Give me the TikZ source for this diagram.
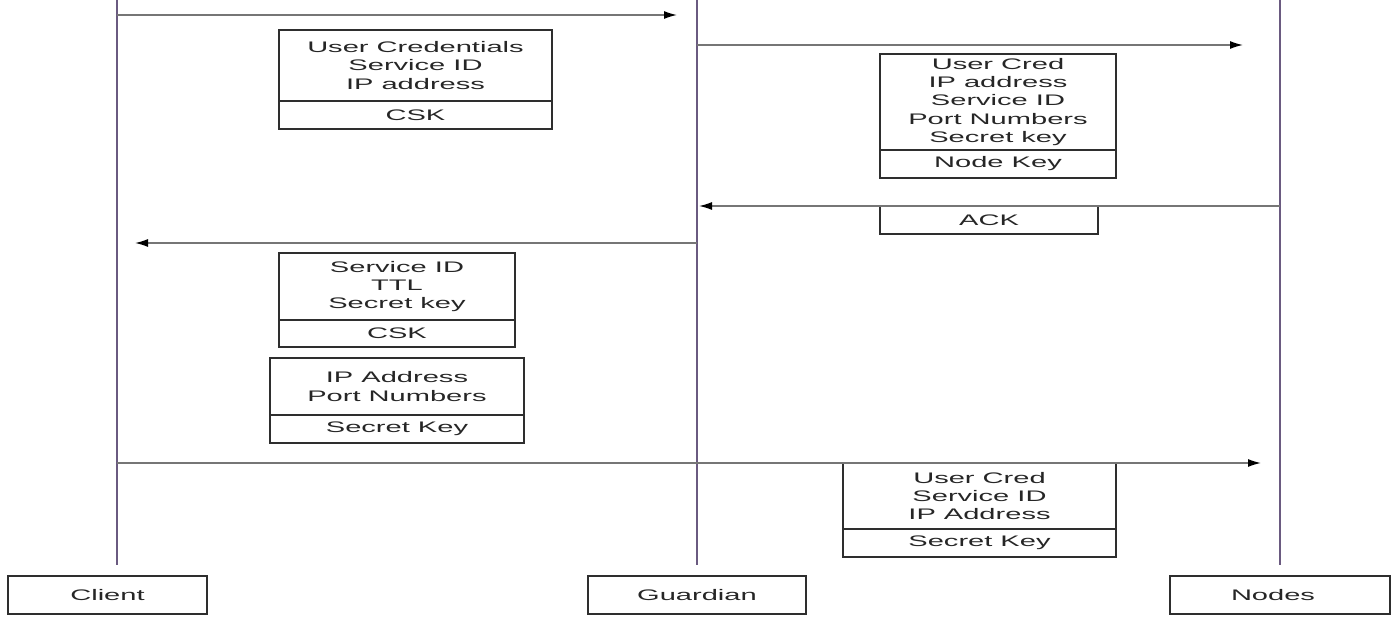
\documentclass[tikz,border=0pt]{standalone}
\usepackage{fontspec}
\usetikzlibrary{arrows.meta}
\newfontfamily\lbl[FakeStretch=1.9]{Liberation Sans}
\definecolor{lifeln}{HTML}{6A5A80}
\definecolor{msgln}{HTML}{767676}
\definecolor{boxln}{HTML}{2E2E2E}
\definecolor{txt}{HTML}{262626}
\tikzset{
  field/.style={draw=boxln, line width=1.1pt, inner sep=0pt, outer sep=0pt,
    align=center, text=txt, font=\lbl\fontsize{15.3}{18.3}\selectfont},
  actor/.style={field, minimum width=218pt, minimum height=38pt, anchor=north},
  lifeline/.style={draw=lifeln, line width=1.6pt},
  msg/.style={draw=msgln, line width=1.4pt,
    -{Latex[length=13pt,width=8pt,fill=black,color=black]}}
}
\begin{document}
\begin{tikzpicture}[x=1pt,y=-1pt]
\useasboundingbox (0,0) rectangle (1397,616);

% participants
\node[actor, minimum width=199pt] (client) at (107.5,576) {Client};
\node[actor] (guard) at (697,576) {Guardian};
\node[actor, minimum width=220pt] (nodes) at (1280,576) {\hspace*{-14pt}Nodes};

% lifelines
\coordinate (cTop) at (117,0);   \coordinate (cBot) at (117,565);
\coordinate (gTop) at (697,0);   \coordinate (gBot) at (697,565);
\coordinate (nTop) at (1280,0);  \coordinate (nBot) at (1280,565);
\draw[lifeline] (cTop) -- (cBot);
\draw[lifeline] (gTop) -- (gBot);
\draw[lifeline] (nTop) -- (nBot);

% message end points
\coordinate (m1s) at (117,15);   \coordinate (m1e) at (677,15);
\coordinate (m2s) at (697,45);   \coordinate (m2e) at (1243,45);
\coordinate (m3s) at (1280,206); \coordinate (m3e) at (699,206);
\coordinate (m4s) at (697,243);  \coordinate (m4e) at (135,243);
\coordinate (m5s) at (117,463);  \coordinate (m5e) at (1261,463);

% client -> guardian
\node[field, anchor=north west, minimum width=273pt, minimum height=71pt] (a1) at (279,30)
  {User Credentials\\Service ID\\IP address};
\node[field, anchor=north, minimum width=273pt, minimum height=28pt] (a2) at (a1.south) {CSK};

% guardian -> nodes
\node[field, anchor=north west, minimum width=236pt, minimum height=96pt] (b1) at (880,54)
  {User Cred\\IP address\\Service ID\\Port Numbers\\Secret key};
\node[field, anchor=north, minimum width=236pt, minimum height=28pt] (b2) at (b1.south) {Node Key};

% nodes -> guardian
\node[field, anchor=north west, minimum width=218pt, minimum height=28pt] (ack) at (880,206) {ACK};

% guardian -> client
\node[field, anchor=north west, minimum width=236pt, minimum height=67pt] (d1) at (279,253)
  {Service ID\\TTL\\Secret key};
\node[field, anchor=north, minimum width=236pt, minimum height=27pt] (d2) at (d1.south) {CSK};
\node[field, anchor=north west, minimum width=254pt, minimum height=57pt] (e1) at (270,358)
  {IP Address\\Port Numbers};
\node[field, anchor=north, minimum width=254pt, minimum height=28pt] (e2) at (e1.south) {Secret Key};

% client -> nodes
\node[field, anchor=north west, minimum width=273pt, minimum height=66pt] (f1) at (843,463)
  {User Cred\\Service ID\\IP Address};
\node[field, anchor=north, minimum width=273pt, minimum height=28pt] (f2) at (f1.south) {Secret Key};

% messages
\draw[msg] (m1s) -- (m1e);
\draw[msg] (m2s) -- (m2e);
\draw[msg] (m3s) -- (m3e);
\draw[msg] (m4s) -- (m4e);
\draw[msg] (m5s) -- (m5e);
\end{tikzpicture}
\end{document}
